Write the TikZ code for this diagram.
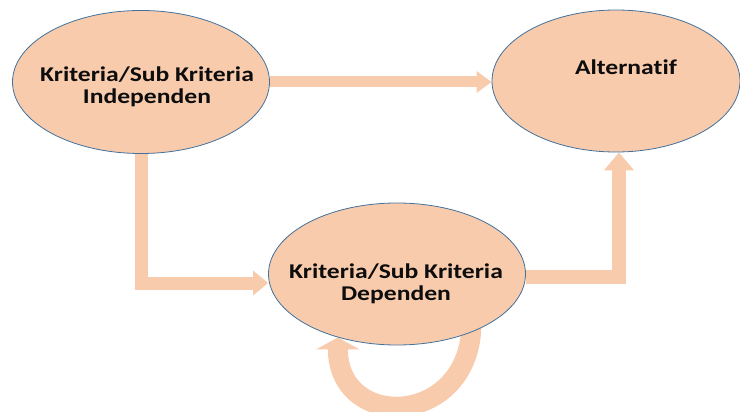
\documentclass[tikz,border=0pt]{standalone}
\usepackage{fontspec}
\setmainfont{Carlito}[FakeStretch=1.22, Ligatures=CommonOff]
\usetikzlibrary{arrows.meta,shapes.geometric,backgrounds}
\definecolor{peach}{HTML}{F8CBAD}
\definecolor{rim}{HTML}{41719C}
\begin{document}
\begin{tikzpicture}[x=1pt,y=-1pt,
  blob/.style={ellipse, draw=rim, line width=0.8pt, fill=peach, inner sep=0pt},
  lbl/.style={font=\bfseries\fontsize{21}{22}\selectfont, align=center, text=black!95, inner sep=0pt},
  band/.style={draw=peach, line join=miter},
  loopband/.style={draw=peach, line width=20pt, -{Triangle[length=12pt,width=43pt]}}]
\useasboundingbox (0,0) rectangle (740,412);

% the three elements of the network
\node[blob, minimum width=257pt, minimum height=143pt] (ind) at (141,82) {};
\node[blob, minimum width=248pt, minimum height=142pt] (alt) at (616,81) {};
\node[blob, minimum width=257pt, minimum height=142pt] (dep) at (397,274) {};

\node[lbl] (indtext) at (147,86.5) {Kriteria/Sub Kriteria\\Independen};
\node[lbl, anchor=base] (alttext) at (626,75) {Alternatif};
\node[lbl] (deptext) at (396,284) {Kriteria/Sub Kriteria\\Dependen};

% influence arrows, kept behind the ellipses
\begin{pgfonlayer}{background}
\draw[band, line width=11pt, -{Triangle[length=15pt,width=21pt]}]
  (ind.east) -- (ind.east -| alt.west);
\draw[band, line width=13pt, -{Triangle[length=15pt,width=24pt]}]
  (ind.south) |- ([yshift=-9pt]dep.west);
\draw[band, line width=14pt, -{Triangle[length=18pt,width=29pt]}]
  ([yshift=-3pt]dep.east) -| ([xshift=3pt]alt.south);
\draw[loopband] ([yshift=10pt]dep.-38) .. controls +(0,105) and +(0,95) .. (dep.-133);
\end{pgfonlayer}
\end{tikzpicture}
\end{document}
